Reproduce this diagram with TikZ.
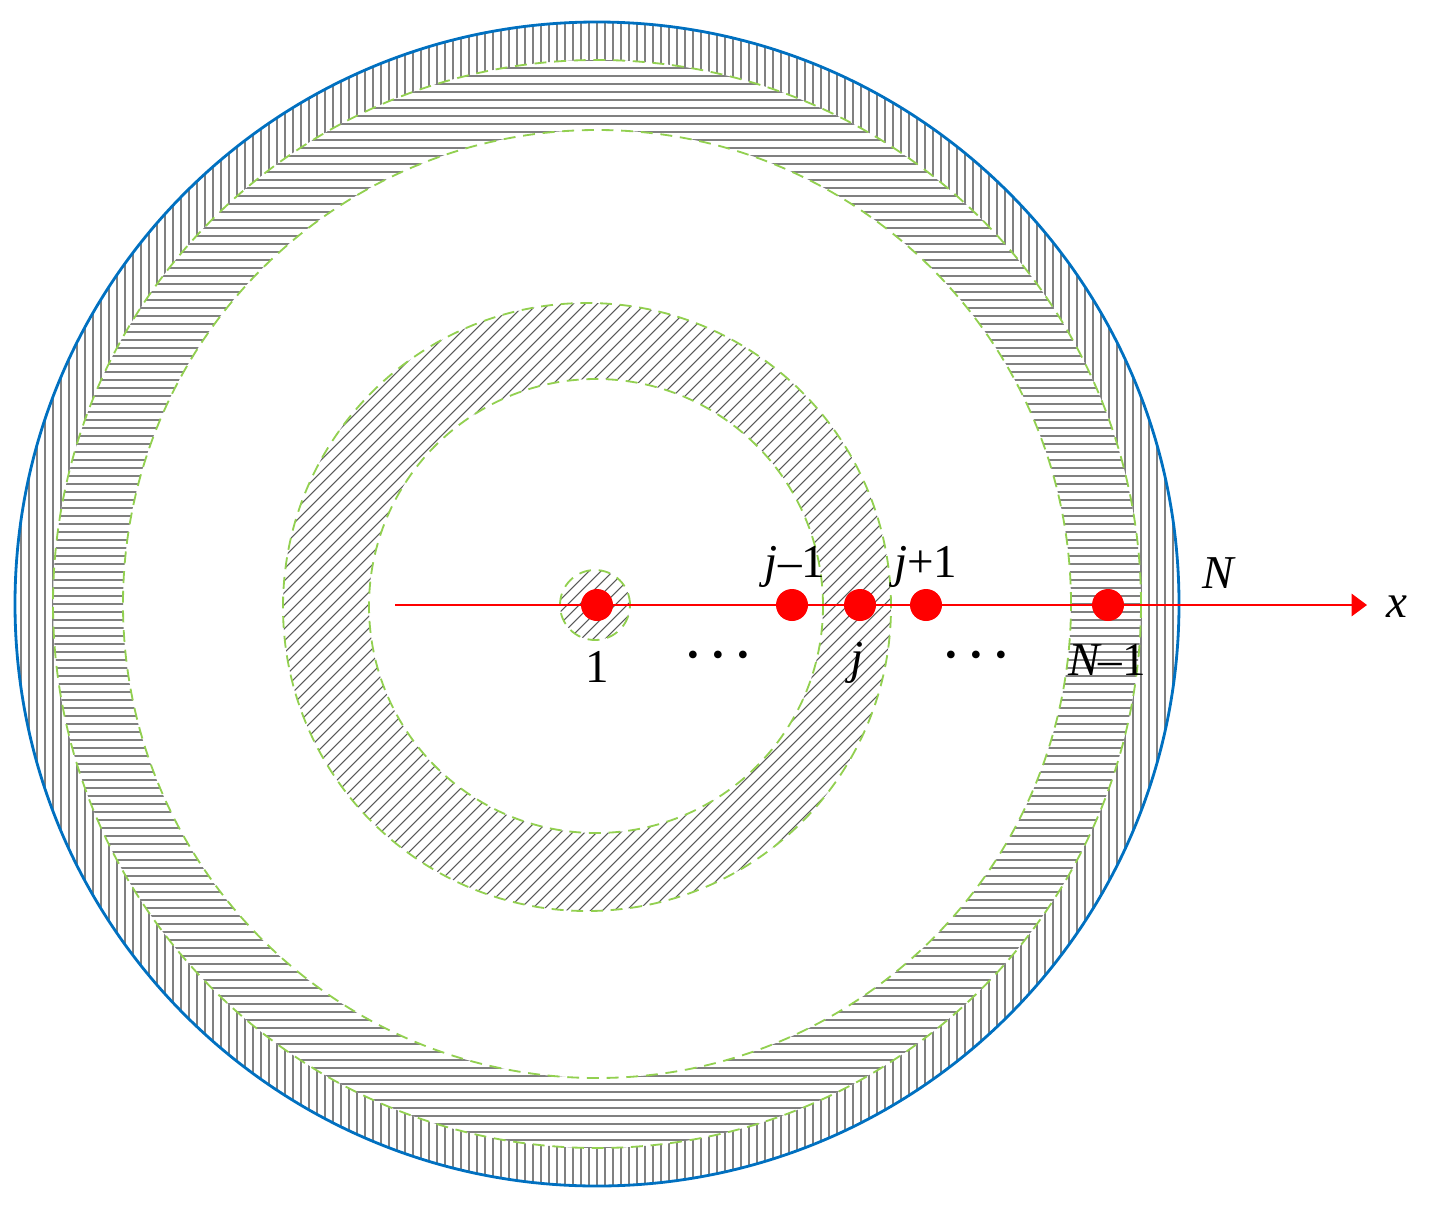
\documentclass[tikz,border=0pt]{standalone}
\usepackage{fontspec}
\setmainfont{Liberation Serif}
\usetikzlibrary{arrows.meta}
\definecolor{ringgreen}{RGB}{146,208,80}
\definecolor{rimblue}{RGB}{0,112,192}
\tikzset{
  hatchA/.style={draw=black!50, line width=1.8pt},
  hatchD/.style={draw=black!65, line width=1.5pt},
  ringline/.style={draw=ringgreen, line width=2.6pt, dash pattern=on 17pt off 11pt},
  rim/.style={draw=rimblue, line width=4pt},
  axisline/.style={draw=red, line width=2.6pt, -{Triangle[length=22pt,width=32pt]}},
  dot/.style={circle, fill=red, minimum size=1.6cm, inner sep=0pt},
  lab/.style={anchor=base, inner sep=0pt, font=\fontsize{67}{75}\selectfont}
}
\begin{document}
\begin{tikzpicture}[x=0.05cm,y=0.05cm]
\useasboundingbox (0,0) rectangle (1430,-1205);
% outer ring with vertical hatch
\begin{scope}[even odd rule]
  \clip (597,-604) circle[radius=582] (597,-604) circle[radius=544];
  \foreach \x in {13,21,...,1185} \draw[hatchA] (\x,-1200) -- (\x,-5);
\end{scope}
% second ring with horizontal hatch
\begin{scope}[even odd rule]
  \clip (597,-604) circle[radius=544] (597,-604) circle[radius=474];
  \foreach \y in {-20,-28,...,-1190} \draw[hatchA] (10,\y) -- (1190,\y);
\end{scope}
% middle ring with diagonal hatch
\begin{scope}[even odd rule]
  \clip (587,-607) circle[radius=304] (596,-606) circle[radius=227];
  \foreach \a in {150,162,...,1050} \draw[hatchD] (\a-400,-1007) -- (\a+400,-207);
\end{scope}
% small disc around node 1
\begin{scope}
  \clip (595,-605) circle[radius=35];
  \foreach \a in {519,531,...,681} \draw[hatchD] (\a-60,-665) -- (\a+60,-545);
\end{scope}
% dashed boundaries
\draw[ringline] (597,-604) circle[radius=544];
\draw[ringline] (597,-604) circle[radius=474];
\draw[ringline] (587,-607) circle[radius=304];
\draw[ringline] (596,-606) circle[radius=227];
\draw[ringline] (595,-605) circle[radius=35];
\draw[rim] (597,-604) circle[radius=582];
% axis
\coordinate (xs) at (395,-605);
\coordinate (xe) at (1367,-605);
\draw[axisline] (xs) -- (xe);
% nodes
\node[dot] (d1) at (597,-605) {};
\node[dot] (djm) at (792,-605) {};
\node[dot] (dj) at (860,-605) {};
\node[dot] (djp) at (926,-605) {};
\node[dot] (dN1) at (1108,-605) {};
% labels
\node[lab] (l1) at (597,-682) {1};
\node[lab] (e1) at (718,-670) {\textbf{·\hspace{0.2em}·\hspace{0.2em}·}};
\node[lab] (lj) at (857,-673) {\textit{j}};
\node[lab] (e2) at (976,-670) {\textbf{·\hspace{0.2em}·\hspace{0.2em}·}};
\node[lab] (lN1) at (1107,-675) {\textit{N}\kern-5pt–1};
\node[lab] (ljm) at (795,-577) {\textit{j}\kern1pt–1};
\node[lab] (ljp) at (926,-577) {\textit{j}\kern-1pt+1};
\node[lab] (lN) at (1219,-588) {\textit{N}};
\node[lab] (lx) at (1397,-617) {\textit{x}};
\end{tikzpicture}
\end{document}
